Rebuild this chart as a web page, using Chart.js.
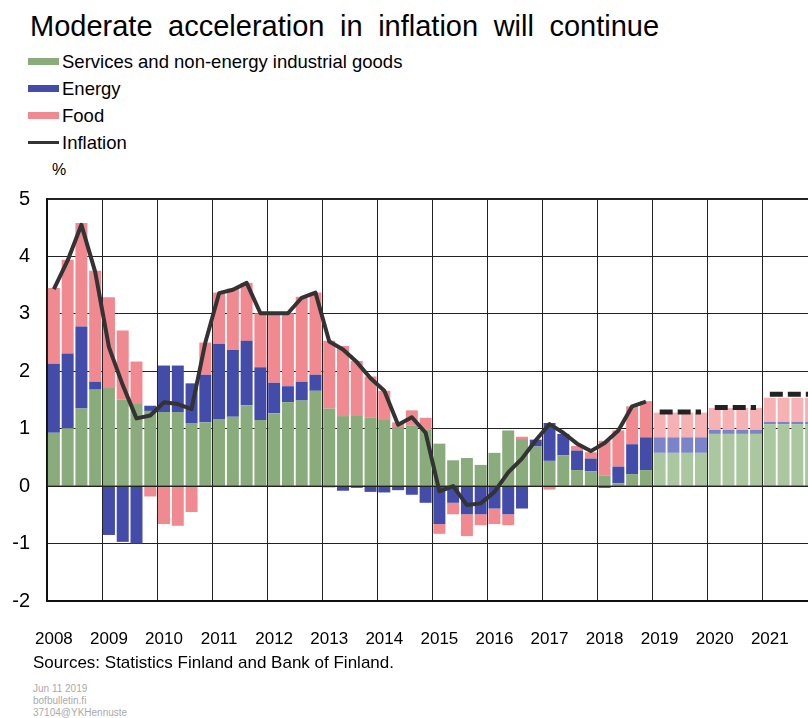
<!DOCTYPE html>
<html>
<head>
<meta charset="utf-8">
<script src="https://cdn.jsdelivr.net/npm/chart.js@4.4.0/dist/chart.umd.min.js"></script>
<style>
  body { margin:0; width:808px; height:718px; overflow:hidden; background:#fff; font-family:"Liberation Sans", Arial, sans-serif; color:#000; position:relative; }
  .title { position:absolute; left:30px; top:12px; font-size:29px; line-height:29px; word-spacing:7.5px; white-space:nowrap; }
  .legend { position:absolute; left:28px; top:48px; }
  .row { height:27px; display:flex; align-items:center; font-size:18.5px; white-space:nowrap; }
  .sw { width:31px; height:7px; margin-right:3px; }
  .ln { width:31px; height:3px; background:#333; margin-right:3px; }
  .unit { position:absolute; left:52px; top:161px; font-size:16px; }
  #wrap { position:absolute; left:0; top:170px; width:840px; height:490px; }
  .src { position:absolute; left:33px; top:653px; font-size:17px; white-space:nowrap; }
  .small { position:absolute; left:33px; top:683px; font-size:10px; line-height:12px; color:#aaa; }
</style>
</head>
<body>
<div class="title">Moderate acceleration in inflation will continue</div>
<div class="legend">
  <div class="row"><div class="sw" style="background:#8aab7c"></div>Services and non-energy industrial goods</div>
  <div class="row"><div class="sw" style="background:#434ca8"></div>Energy</div>
  <div class="row"><div class="sw" style="background:#f08a90"></div>Food</div>
  <div class="row"><div class="ln"></div>Inflation</div>
</div>
<div class="unit">%</div>
<div id="wrap"><canvas id="myChart" width="840" height="490"></canvas></div>
<div class="src">Sources: Statistics Finland and Bank of Finland.</div>
<div class="small">Jun 11 2019<br>bofbulletin.fi<br>37104@YKHennuste</div>
<script>
const years = ['2008', '2009', '2010', '2011', '2012', '2013', '2014',
    '2015', '2016', '2017', '2018', '2019', '2020', '2021'];
const quarters = [];
for (const y of years) {
    for (let q = 1; q <= 4; q++) quarters.push(y + 'Q' + q);
}
const forecastStart = 44; // 2019Q1

const services = [
    0.93, 1.01, 1.35, 1.68,
    1.71, 1.51, 1.43, 1.31,
    1.29, 1.29, 1.09, 1.11,
    1.17, 1.21, 1.41, 1.15,
    1.27, 1.46, 1.49, 1.66,
    1.35, 1.22, 1.22, 1.19,
    1.15, 1.03, 1.05, 0.99,
    0.74, 0.45, 0.49, 0.37,
    0.58, 0.97, 0.82, 0.69,
    0.44, 0.54, 0.28, 0.26,
    0.18, 0.05, 0.21, 0.28,
    0.58, 0.58, 0.58, 0.58,
    0.91, 0.91, 0.91, 0.91,
    1.08, 1.08, 1.08, 1.08
];
const energy = [
    1.20, 1.30, 1.43, 0.14,
    -0.85, -0.97, -1.00, 0.09,
    0.81, 0.81, 0.70, 0.83,
    1.31, 1.16, 1.12, 0.92,
    0.53, 0.28, 0.33, 0.28,
    -0.02, -0.08, -0.03, -0.10,
    -0.11, -0.07, -0.15, -0.29,
    -0.66, -0.29, -0.49, -0.49,
    -0.39, -0.49, -0.39, 0.12,
    0.66, 0.37, 0.34, 0.22,
    -0.03, 0.29, 0.52, 0.57,
    0.27, 0.27, 0.27, 0.27,
    0.07, 0.07, 0.07, 0.07,
    0.04, 0.04, 0.04, 0.04
];
const food = [
    1.32, 1.63, 1.80, 1.93,
    1.58, 1.20, 0.74, -0.18,
    -0.66, -0.69, -0.45, 0.56,
    0.89, 1.07, 1.01, 0.94,
    1.21, 1.27, 1.48, 1.43,
    1.18, 1.22, 0.96, 0.72,
    0.51, 0.08, 0.27, 0.20,
    -0.17, -0.20, -0.38, -0.19,
    -0.27, -0.19, 0.04, 0.00,
    -0.06, 0.00, 0.08, 0.11,
    0.61, 0.63, 0.66, 0.63,
    0.43, 0.43, 0.43, 0.43,
    0.38, 0.38, 0.38, 0.38,
    0.42, 0.42, 0.42, 0.42
];
const inflation = [
    3.43, 3.93, 4.55, 3.73,
    2.42, 1.76, 1.18, 1.23,
    1.46, 1.43, 1.34, 2.50,
    3.36, 3.42, 3.54, 3.01,
    3.01, 3.01, 3.28, 3.37,
    2.52, 2.38, 2.16, 1.88,
    1.66, 1.07, 1.20, 0.93,
    -0.09, 0.00, -0.33, -0.30,
    -0.10, 0.24, 0.48, 0.80,
    1.08, 0.93, 0.74, 0.61,
    0.75, 0.97, 1.39, 1.47,
    null, null, null, null,
    null, null, null, null,
    null, null, null, null
];
const inflationForecast = [
    null, null, null, null, null, null, null, null, null, null, null,
    null, null, null, null, null, null, null, null, null, null, null,
    null, null, null, null, null, null, null, null, null, null, null,
    null, null, null, null, null, null, null, null, null, null, null,
    1.29, 1.29, 1.29, 1.29,
    1.37, 1.37, 1.37, 1.37,
    1.60, 1.60, 1.60, 1.60
];

function shade(hist, fcst) {
    return ctx => ctx.dataIndex >= forecastStart ? fcst : hist;
}

// zero line sits on top of the bars but under the inflation line
const zeroLine = {
    id: 'zeroLine',
    afterDatasetDraw(chart, args) {
        if (args.index !== 0) return;
        const {ctx, chartArea, scales} = chart;
        const y = scales.y.getPixelForValue(0);
        ctx.save();
        ctx.strokeStyle = '#222';
        ctx.lineWidth = 1.5;
        ctx.beginPath();
        ctx.moveTo(chartArea.left, y);
        ctx.lineTo(chartArea.right, y);
        ctx.stroke();
        ctx.restore();
    }
};

Chart.defaults.font.family = '"Liberation Sans", Arial, sans-serif';
Chart.defaults.color = '#000';

const ctx = document.getElementById('myChart');
new Chart(ctx, {
    data: {
        labels: quarters,
        datasets: [
            {type: 'bar', label: 'Services and non-energy industrial goods', data: services,
                backgroundColor: shade('#8aab7c', '#abc7a0'), stack: 'c', order: 2},
            {type: 'bar', label: 'Energy', data: energy,
                backgroundColor: shade('#434ca8', '#7b83c9'), stack: 'c', order: 2},
            {type: 'bar', label: 'Food', data: food,
                backgroundColor: shade('#f08a90', '#f6b1b4'), stack: 'c', order: 2},
            {type: 'line', label: 'Inflation', data: inflation, borderColor: '#333',
                borderWidth: 4, pointRadius: 0, stack: 'i', order: 1, borderJoinStyle: 'round'},
            {type: 'line', label: 'Inflation forecast', data: inflationForecast, borderColor: '#222',
                borderWidth: 5, borderDash: [13, 5], pointRadius: 0, stack: 'f', order: 1,
                segment: {
                    borderColor: c => c.p0.parsed.y === c.p1.parsed.y ? '#222' : 'rgba(0,0,0,0)'
                }}
        ]
    },
    plugins: [zeroLine],
    options: {
        responsive: false,
        animation: false,
        layout: {padding: {top: 22, right: 22, left: 0, bottom: 0}},
        datasets: {bar: {categoryPercentage: 0.87, barPercentage: 1}},
        plugins: {legend: {display: false}, tooltip: {enabled: false}},
        scales: {
            x: {
                stacked: true,
                afterFit: s => { s.height = 59; },
                grid: {
                    offset: true,
                    drawTicks: false,
                    color: c => c.index % 4 === 0 ? '#222' : 'rgba(0,0,0,0)'
                },
                border: {color: '#111', width: 2},
                ticks: {
                    autoSkip: false,
                    maxRotation: 0,
                    padding: 28,
                    font: {size: 17},
                    callback: (v, i) => i % 4 === 0 ? quarters[i].slice(0, 4) : ''
                }
            },
            y: {
                stacked: true,
                min: -2,
                max: 5,
                afterFit: s => { s.width = 47; },
                grid: {
                    drawTicks: false,
                    color: '#222',
                    lineWidth: c => c.tick && c.tick.value === 5 ? 2 : 1
                },
                border: {color: '#111', width: 2},
                ticks: {stepSize: 1, padding: 17, font: {size: 20}}
            }
        }
    }
});
</script>
</body>
</html>
